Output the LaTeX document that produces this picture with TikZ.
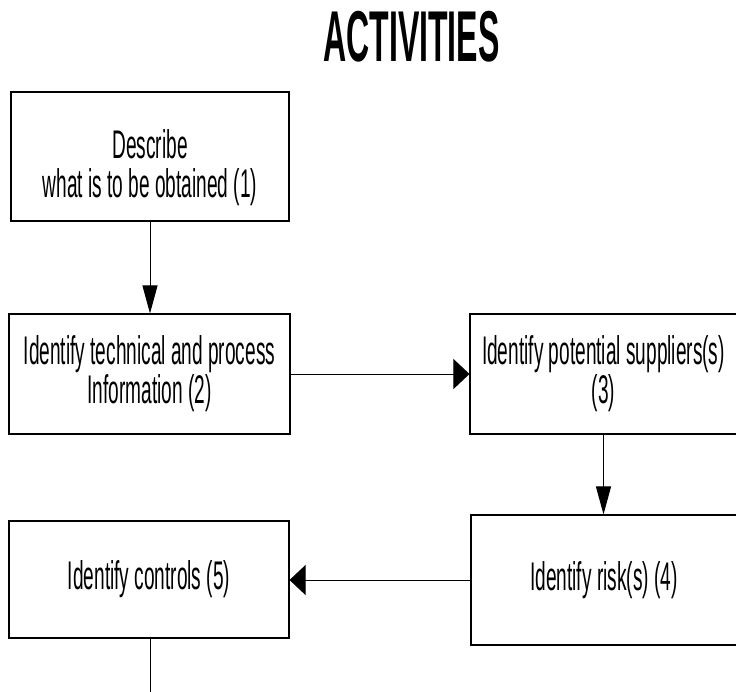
\documentclass[tikz,border=0pt]{standalone}
\usepackage{fontspec}
\usetikzlibrary{arrows.meta}
% condensed sans faces for the labels and the heading
\newfontfamily\labelfont[FakeStretch=0.477]{Liberation Sans}
\newfontfamily\headfont[FakeStretch=0.445]{Liberation Sans Bold}
\begin{document}
\begin{tikzpicture}[x=1pt,y=-1pt,
  steptext/.style={inner sep=0pt,align=center,font=\labelfont\fontsize{40}{39}\selectfont},
  stepbox/.style={steptext,draw=black,line width=1.1pt,rectangle},
  flow/.style={line width=1pt,draw=black},
  vtip/.style={flow,-{Triangle[length=28pt,width=15pt]}},
  htip/.style={flow,-{Triangle[length=16pt,width=30pt]}}]
\useasboundingbox (0,0) rectangle (736,691);

% heading
\node[anchor=base,inner sep=0pt,font=\headfont\fontsize{72}{80}\selectfont] (title) at (411.5,61) {ACTIVITIES};

% activity boxes
\node[stepbox,minimum width=278pt,minimum height=129pt] (b1) at (150,156.5) {};
\node[steptext] (b1text) at (150,168) {Describe\\what is to be obtained (1)};
\node[stepbox,minimum width=281pt,minimum height=120pt] (b2) at (149.5,374)
  {Identify technical and process\\Information (2)};
\node[stepbox,minimum width=267pt,minimum height=120pt] (b3) at (603.5,374)
  {Identify potential suppliers(s)\\(3)};
\node[stepbox,minimum width=266pt,minimum height=130pt] (b4) at (604,580)
  {Identify risk(s) (4)};
\node[stepbox,minimum width=280pt,minimum height=117pt] (b5) at (149,579.5)
  {Identify controls (5)};

% flow between the activities
\draw[vtip] (b1.south) -- (b1.south |- b2.north);
\draw[htip] (b2.east) -- (b3.west);
\draw[vtip] (b3.south) -- (b3.south |- b4.north);
\draw[htip] (b4.west) -- (b4.west -| b5.east);
\coordinate (next) at (150,695);
\draw[flow] (b5.south -| next) -- (next);
\end{tikzpicture}
\end{document}
